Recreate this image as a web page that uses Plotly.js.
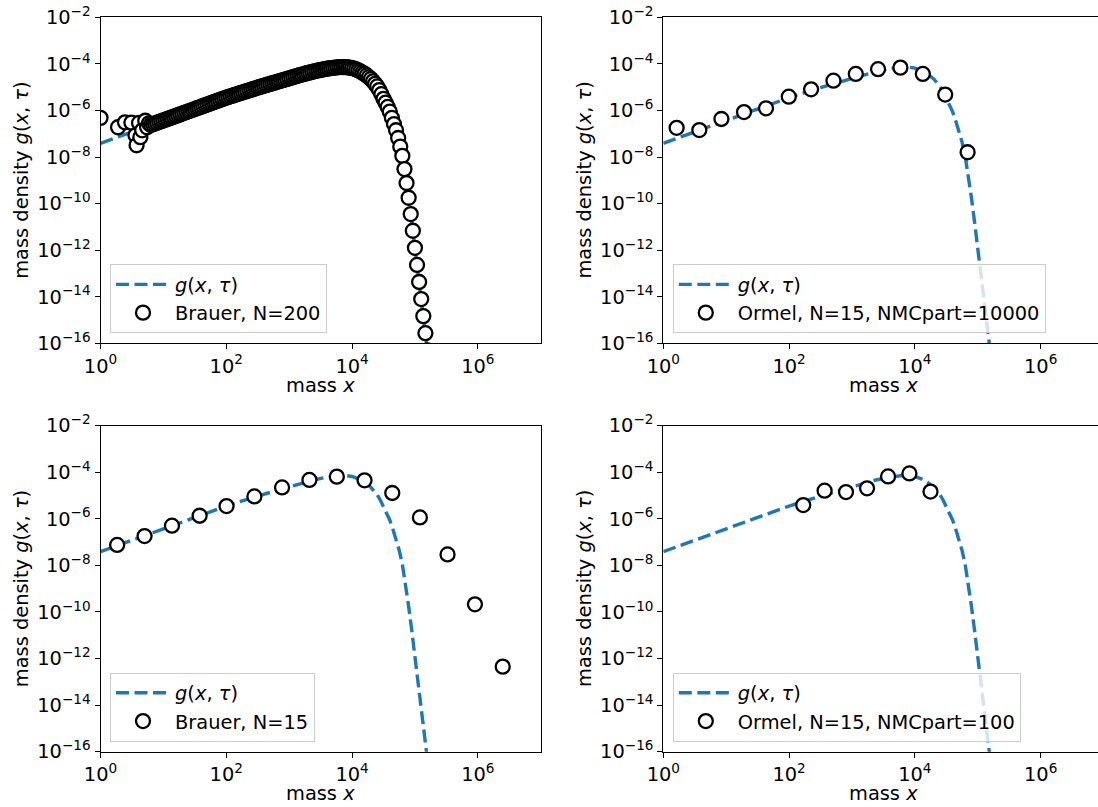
<!DOCTYPE html>
<html><head><meta charset="utf-8">
<script src="https://cdn.plot.ly/plotly-3.0.1.min.js"></script>
<style>html,body{margin:0;padding:0;background:#fff;overflow:hidden}</style>
</head><body>
<div id="chart" style="width:1098px;height:807px"></div>
<script>
// analytic curve g(x, tau)
const curveX = [1, 3.16, 10, 31.6, 100, 316, 1000, 1585, 2512, 3981, 5012, 6310, 7943, 10000, 12600, 15800,
  20000, 25100, 28200, 31600, 35500, 39800, 44700, 50100, 56200, 63100, 70800, 79400, 89100,
  100000, 112000, 126000, 141000, 158000, 178000];
const curveY = [3.89e-8, 1.20e-7, 3.72e-7, 1.15e-6, 3.55e-6, 9.55e-6, 2.40e-5, 3.47e-5, 4.79e-5, 6.17e-5, 6.76e-5, 7.24e-5, 7.24e-5, 6.61e-5, 5.25e-5, 3.72e-5,
  2.24e-5, 1.07e-5, 6.31e-6, 3.16e-6, 1.78e-6, 8.91e-7, 3.55e-7, 1.41e-7, 4.47e-8, 1.12e-8, 1.58e-9, 1.78e-10, 1.58e-11,
  1.26e-12, 1.0e-13, 7.94e-15, 6.31e-16, 5.01e-17, 3.16e-18];

// Brauer, N=200
const brauer200X = [1.0, 1.9, 2.45, 3.1, 3.6, 3.75, 4.1, 4.3, 4.6, 5.15, 5.5, 5.9,
  6.31, 6.81, 7.36, 7.94, 8.58, 9.26, 10.0, 10.8, 11.66, 12.59, 13.59, 14.68, 15.85, 17.11, 18.48, 19.95,
  21.54, 23.26, 25.12, 27.12, 29.29, 31.62, 34.15, 36.87, 39.81, 42.99, 46.42, 50.12, 54.12, 58.43, 63.10,
  68.13, 73.56, 79.43, 85.77, 92.61, 100, 108, 116.6, 125.9, 135.9, 146.8, 158.5, 171.1, 184.8, 199.5,
  215.4, 232.6, 251.2, 271.2, 292.9, 316.2, 341.5, 368.7, 398.1, 429.9, 464.2, 501.2, 541.2, 584.3, 631.0,
  681.3, 735.6, 794.3, 857.7, 926.1, 1000, 1080, 1166, 1259, 1359, 1468, 1585, 1711, 1848, 1995,
  2154, 2326, 2512, 2712, 2929, 3162, 3415, 3687, 3981, 4299, 4642, 5012, 5412, 5843, 6310,
  6813, 7356, 7943, 8577, 9261, 10000, 10798, 11659, 12589, 13594, 14678, 15849, 17113, 18478, 19953,
  21544, 23263, 25119, 27123, 29286, 31623, 34145, 36869, 39811, 42987, 46416, 50119, 54117, 58434, 63096,
  68129, 73564, 79433, 85770, 92612, 100000, 107980, 116590, 125890, 135940, 146780, 158490];
const brauer200Y = [4.8e-7, 1.9e-7, 3.1e-7, 3.0e-7, 8.5e-8, 3.2e-8, 2.9e-7, 7.1e-8, 1.4e-7, 3.6e-7, 1.9e-7, 2.8e-7,
  2.37e-7, 2.55e-7, 2.75e-7, 2.96e-7, 3.20e-7, 3.45e-7, 3.72e-7, 4.01e-7, 4.32e-7, 4.66e-7, 5.02e-7, 5.41e-7, 5.83e-7, 6.30e-7, 6.78e-7, 7.31e-7,
  7.89e-7, 8.49e-7, 9.16e-7, 9.89e-7, 1.06e-6, 1.15e-6, 1.24e-6, 1.33e-6, 1.44e-6, 1.55e-6, 1.67e-6, 1.80e-6, 1.95e-6, 2.09e-6, 2.26e-6,
  2.44e-6, 2.62e-6, 2.83e-6, 3.05e-6, 3.29e-6, 3.55e-6, 3.79e-6, 4.05e-6, 4.33e-6, 4.62e-6, 4.93e-6, 5.27e-6, 5.64e-6, 6.01e-6, 6.43e-6,
  6.87e-6, 7.33e-6, 7.83e-6, 8.38e-6, 8.93e-6, 9.55e-6, 1.02e-5, 1.08e-5, 1.15e-5, 1.22e-5, 1.30e-5, 1.38e-5, 1.47e-5, 1.56e-5, 1.66e-5,
  1.77e-5, 1.87e-5, 2.00e-5, 2.12e-5, 2.25e-5, 2.40e-5, 2.55e-5, 2.71e-5, 2.88e-5, 3.07e-5, 3.26e-5, 3.47e-5, 3.66e-5, 3.86e-5, 4.07e-5,
  4.30e-5, 4.54e-5, 4.79e-5, 5.01e-5, 5.25e-5, 5.50e-5, 5.71e-5, 5.93e-5, 6.17e-5, 6.36e-5, 6.56e-5, 6.76e-5, 6.92e-5, 7.08e-5, 7.24e-5,
  7.24e-5, 7.24e-5, 7.24e-5, 7.03e-5, 6.81e-5, 6.61e-5, 6.31e-5, 5.75e-5, 5.25e-5, 4.71e-5, 4.20e-5, 3.72e-5, 3.18e-5, 2.69e-5, 2.24e-5,
  1.78e-5, 1.39e-5, 1.07e-5, 7.53e-6, 5.01e-6, 3.16e-6, 2.15e-6, 1.41e-6, 8.91e-7, 4.82e-7, 2.61e-7, 1.41e-7, 6.56e-8, 2.82e-8, 1.12e-8,
  3.04e-9, 7.64e-10, 1.78e-10, 3.55e-11, 6.81e-12, 1.26e-12, 2.33e-13, 4.30e-14, 7.94e-15, 1.47e-15, 2.71e-16, 5.01e-17];

// Ormel, N=15, NMCpart=10000
const ormel10000X = [1.63, 3.74, 8.4, 19.2, 43, 98.9, 224, 508, 1151, 2600, 5900, 13400, 30400, 69000];
const ormel10000Y = [1.8e-7, 1.44e-7, 4.3e-7, 8.5e-7, 1.23e-6, 3.9e-6, 8.1e-6, 1.9e-5, 3.7e-5, 5.9e-5, 6.9e-5, 3.7e-5, 4.8e-6, 1.6e-8];

// Brauer, N=15
const brauer15X = [1.84, 5.02, 13.7, 37.7, 101, 280, 771, 2100, 5730, 15800, 43600, 120000, 330000, 900000, 2490000];
const brauer15Y = [7.6e-8, 1.82e-7, 5.1e-7, 1.36e-6, 3.55e-6, 9.2e-6, 2.24e-5, 4.7e-5, 6.5e-5, 4.5e-5, 1.29e-5, 1.15e-6, 2.95e-8, 2.13e-10, 4.5e-13];

// Ormel, N=15, NMCpart=100
const ormel100X = [168, 367, 804, 1738, 3750, 8200, 17740];
const ormel100Y = [3.9e-6, 1.62e-5, 1.41e-5, 2.04e-5, 6.6e-5, 8.9e-5, 1.48e-5];

const curveName = '<i>g</i>(<i>x</i>, <i>τ</i>)';
const seriesNames = ['Brauer, N=200', 'Ormel, N=15, NMCpart=10000', 'Brauer, N=15', 'Ormel, N=15, NMCpart=100'];
const xTickVals = [1, 100, 1e4, 1e6];
const xTickText = ['10<sup>0</sup>', '10<sup>2</sup>', '10<sup>4</sup>', '10<sup>6</sup>'];
const yTickVals = [1e-16, 1e-14, 1e-12, 1e-10, 1e-8, 1e-6, 1e-4, 1e-2];
const yTickText = ['10<sup>−16</sup>', '10<sup>−14</sup>', '10<sup>−12</sup>', '10<sup>−10</sup>', '10<sup>−8</sup>', '10<sup>−6</sup>', '10<sup>−4</sup>', '10<sup>−2</sup>'];

const W = 1098, H = 807;
const FONT = 'DejaVu Sans';
const FS = 19.4;
const dataSets = [[brauer200X, brauer200Y], [ormel10000X, ormel10000Y], [brauer15X, brauer15Y], [ormel100X, ormel100Y]];

// panel geometry in pixels: left, right, top, bottom
const pxPerDecade = 62.886;
const panels = [
  {l: 100.5, r: 540.7, t: 17.3, b: 343.3, right: false},
  {l: 663.3, r: W, t: 17.3, b: 343.3, right: true},
  {l: 100.5, r: 540.7, t: 425.7, b: 751.7, right: false},
  {l: 663.3, r: W, t: 425.7, b: 751.7, right: true}
];

const traces = [];
const layout = {
  width: W, height: H, margin: {l: 0, r: 0, t: 0, b: 0},
  paper_bgcolor: '#fff', plot_bgcolor: '#fff', showlegend: true,
  font: {family: FONT, size: FS, color: '#000'},
  annotations: []
};

panels.forEach((p, i) => {
  const n = i === 0 ? '' : String(i + 1);
  const xa = 'x' + n, ya = 'y' + n;
  const lg = 'legend' + n;
  traces.push({
    x: curveX, y: curveY, mode: 'lines', name: curveName, xaxis: xa, yaxis: ya, legend: lg,
    line: {color: '#1f77b4', width: 3.4, dash: '13px,5.5px'}, hoverinfo: 'skip'
  });
  traces.push({
    x: dataSets[i][0], y: dataSets[i][1], mode: 'markers', name: seriesNames[i], xaxis: xa, yaxis: ya, legend: lg,
    marker: {symbol: 'circle', size: 14, color: '#ffffff', line: {color: '#000000', width: 2.3}}, cliponaxis: true
  });
  const xRangeMax = (p.r - p.l) / pxPerDecade;
  layout['xaxis' + n] = {
    type: 'log', domain: [p.l / W, p.r / W], range: [0, xRangeMax], anchor: ya,
    tickvals: xTickVals, ticktext: xTickText, ticks: 'outside', ticklen: 5, tickwidth: 1, tickcolor: '#000',
    showline: true, linecolor: '#000', linewidth: 1, mirror: true, showgrid: false, zeroline: false,
    tickfont: {family: FONT, size: FS, color: '#000'}
  };
  layout['yaxis' + n] = {
    type: 'log', domain: [1 - p.b / H, 1 - p.t / H], range: [-16, -2], anchor: xa,
    tickvals: yTickVals, ticktext: yTickText, ticks: 'outside', ticklen: 5, tickwidth: 1, tickcolor: '#000',
    showline: true, linecolor: '#000', linewidth: 1, mirror: !p.right, showgrid: false, zeroline: false,
    tickfont: {family: FONT, size: FS, color: '#000'}
  };
  layout[lg] = {
    x: (p.l + 9.5) / W, y: 1 - (p.b - 10) / H, xanchor: 'left', yanchor: 'bottom',
    bgcolor: 'rgba(255,255,255,0.8)', bordercolor: '#cccccc', borderwidth: 1,
    font: {family: FONT, size: FS, color: '#000'}, traceorder: 'normal',
    itemwidth: 54, tracegroupgap: 0
  };
  // axis titles
  layout.annotations.push({
    text: 'mass <i>x</i>', xref: 'paper', yref: 'paper', showarrow: false,
    x: (p.l + 440.2 / 2) / W, y: 1 - (p.b + 42) / H, xanchor: 'center', yanchor: 'middle',
    font: {family: FONT, size: FS, color: '#000'}
  });
  layout.annotations.push({
    text: 'mass density <i>g</i>(<i>x</i>, <i>τ</i>)', xref: 'paper', yref: 'paper', showarrow: false,
    x: (p.l - 79) / W, y: 1 - ((p.t + p.b) / 2) / H, xanchor: 'center', yanchor: 'middle', textangle: -90,
    font: {family: FONT, size: FS, color: '#000'}
  });
});

Plotly.newPlot('chart', traces, layout, {staticPlot: true, displayModeBar: false});
</script>
</body></html>
